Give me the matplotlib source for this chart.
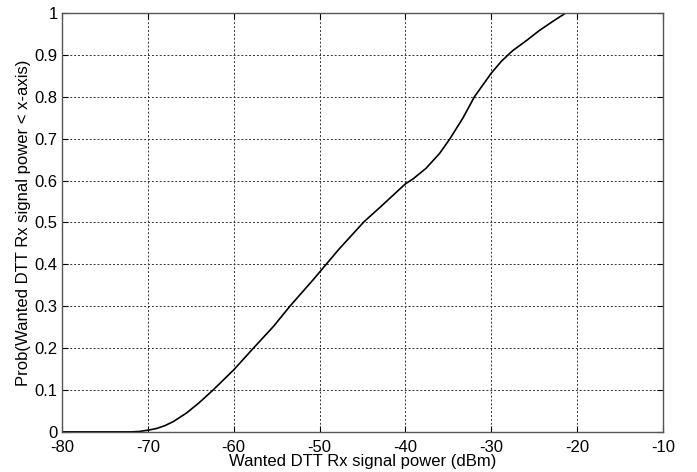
import matplotlib.pyplot as plt

# CDF
power_dbm = [-80, -72, -71, -70, -69, -68, -67, -65.5, -64, -62.4, -60, -57.7,
             -55.4, -53.45, -50.75, -47.7, -44.8, -42.85, -40, -39.1, -37.6,
             -36.0, -34.8, -33.3, -31.95, -30, -28.8, -27.5, -25.9, -24.4,
             -22.6, -21.3]
prob = [0, 0, 0.001, 0.004, 0.008, 0.015, 0.025, 0.045, 0.07, 0.1, 0.148, 0.2,
        0.251, 0.30, 0.363, 0.437, 0.502, 0.538, 0.592, 0.604, 0.629,
        0.665, 0.70, 0.749, 0.80, 0.856, 0.885, 0.91, 0.934, 0.958,
        0.983, 1.0]

x_ticks = [-80, -70, -60, -50, -40, -30, -20, -10]
y_ticks = [0, 0.1, 0.2, 0.3, 0.4, 0.5, 0.6, 0.7, 0.8, 0.9, 1]
y_tick_labels = ['0', '0.1', '0.2', '0.3', '0.4', '0.5', '0.6', '0.7', '0.8', '0.9', '1']

plt.rcParams['font.family'] = ['Liberation Sans', 'DejaVu Sans']
plt.rcParams['axes.unicode_minus'] = False

fig = plt.figure(figsize=(6.97, 4.72), dpi=100)
ax = fig.add_axes([0.089, 0.085, 0.862, 0.8875])

ax.plot(power_dbm, prob, color='black', linewidth=1.2)

ax.set_xlim(-80, -10)
ax.set_ylim(0, 1)
ax.set_xticks(x_ticks)
ax.set_yticks(y_ticks)
ax.set_yticklabels(y_tick_labels)
ax.tick_params(direction='in', top=True, right=True, labelsize=12, length=4)
ax.tick_params(axis='x', pad=6)
ax.tick_params(axis='y', pad=3)
ax.grid(True, color='#333333', linestyle=(0, (2, 2)), linewidth=0.7)
for s in ax.spines.values():
    s.set_color('#555555')
    s.set_linewidth(1.0)

ax.set_xlabel('Wanted DTT Rx signal power (dBm)', fontsize=12, labelpad=-1)
ax.set_ylabel('Prob(Wanted DTT Rx signal power < x-axis)', fontsize=12, labelpad=3)

fig.savefig('out.png', dpi=100)
